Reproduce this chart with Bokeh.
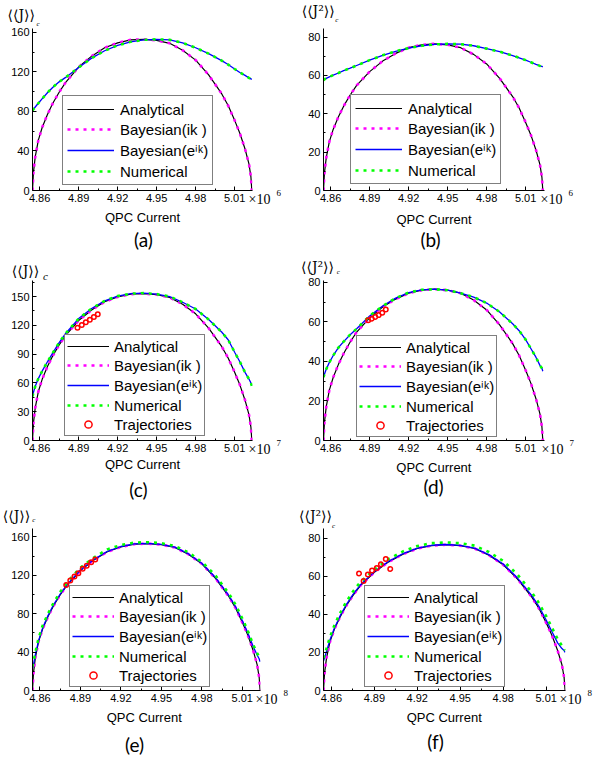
from bokeh.plotting import figure
from bokeh.layouts import column, row
from bokeh.models import Legend, LegendItem, Label, FixedTicker, NumeralTickFormatter
from bokeh.embed import file_html
from bokeh.resources import INLINE

# ---------------- data ----------------
X_TICKS = [4.86, 4.89, 4.92, 4.95, 4.98, 5.01]
X_MINOR = [4.875, 4.905, 4.935, 4.965, 4.995]

QPC = [4.8545, 4.8552, 4.8566, 4.8590, 4.862, 4.866, 4.870, 4.875, 4.880, 4.890,
       4.900, 4.910, 4.920, 4.930, 4.940, 4.950, 4.960, 4.970, 4.980, 4.990,
       5.000, 5.005, 5.010, 5.014, 5.018, 5.021, 5.0225, 5.0232]

J_ANALYTICAL = [0, 18, 34, 51, 64, 77, 88, 99.5, 109.5, 125, 136, 144.5, 149.5, 152.5, 153,
                152, 149, 142, 132, 117, 98, 86, 71, 58, 42, 27, 14, 0]
J2_ANALYTICAL = [0, 9, 17, 25.5, 32, 38.5, 44, 49.8, 54.8, 62, 67.5, 71.5, 74.5, 76, 76.5,
                 76, 74.5, 71, 66, 58.5, 49, 43, 35.5, 29, 21, 13.5, 7, 0]
J_BAYES_IK = [0, 18, 34, 51, 64, 77, 88, 99.5, 109.5, 125, 136, 144.5, 149.5, 152.5, 153,
              152, 149, 142, 132, 117, 98, 86, 71, 58, 42, 27, 14, 0]
J2_BAYES_IK = [0, 9, 17, 25.5, 32, 38.5, 44, 49.8, 54.8, 62, 67.5, 71.5, 74.5, 76, 76.5,
               76, 74.5, 71, 66, 58.5, 49, 43, 35.5, 29, 21, 13.5, 7, 0]

# Bayesian(e^ik) and numerical, panel by panel
EIK_A = [81, 82.2, 84.5, 88.3, 93, 99, 104.3, 110, 114.5, 124.5, 134, 141.5, 147, 150.5, 152.5,
         153, 152.5, 149.5, 144.5, 138.5, 131.5, 127.5, 123, 119.5, 116.5, 114, 113, 112.5]
NUM_A = [81, 82.2, 84.5, 88.3, 93, 99, 104.3, 110, 114.5, 124.5, 134, 141.5, 147, 150.5, 152.5,
         153, 152.5, 149.5, 144.5, 138.5, 131.5, 127.5, 123, 119.5, 116.5, 114, 113, 112.5]
EIK_B = [57.5, 58, 58.5, 59.3, 60.2, 61.3, 62.5, 63.8, 65.2, 68, 70.5, 72.6, 74.3, 75.5, 76.2,
         76.5, 76.3, 75.5, 74, 72.4, 70.4, 69.2, 68, 66.9, 65.8, 65, 64.7, 64.5]
NUM_B = [57.5, 58, 58.5, 59.3, 60.2, 61.3, 62.5, 63.8, 65.2, 68, 70.5, 72.6, 74.3, 75.5, 76.2,
         76.5, 76.3, 75.5, 74, 72.4, 70.4, 69.2, 68, 66.9, 65.8, 65, 64.7, 64.5]
EIK_C = [46, 50, 56.5, 64.5, 72.5, 82, 91, 102, 111.5, 127, 137.5, 145.5, 150.5, 153, 153.5,
         152.5, 150, 144, 137, 126, 113, 105, 92, 82, 71, 64, 60, 57]
NUM_C = [46, 50, 56.5, 64.5, 72.5, 82, 91, 102, 111.5, 127, 137.5, 145.5, 150.5, 153, 153.5,
         152.5, 150, 144, 137, 126, 113, 105, 92, 82, 71, 64, 60, 57]
EIK_D = [32, 33.5, 36, 39.5, 43, 47, 50, 53.5, 56.5, 63, 68, 72, 74.8, 76.2, 76.5,
         76, 74.5, 72.5, 69.5, 65, 59, 55.5, 51, 46.5, 42, 38, 36.5, 35]
NUM_D = [32, 33.5, 36, 39.5, 43, 47, 50, 53.5, 56.5, 63, 68, 72, 74.8, 76.2, 76.5,
         76, 74.5, 72.5, 69.5, 65, 59, 55.5, 51, 46.5, 42, 38, 36.5, 35]
EIK_E = [23, 27, 37, 52, 65, 78, 89, 100.5, 110, 125.5, 136.5, 145, 150, 152.7, 153.2,
         152.3, 149.3, 142.5, 132.5, 118, 99, 87.5, 73, 60.5, 46, 37, 33, 30]
NUM_E = [25, 29, 39.5, 54.5, 67.5, 80, 91, 102.5, 112.5, 128, 138.5, 147, 151.5, 154, 154.5,
         153.5, 150.5, 144, 134, 120, 101, 89.5, 75, 62.5, 48, 39, 35, 32]
EIK_F = [15.5, 17, 20.5, 26.5, 32.5, 39, 44.5, 50.3, 55.2, 62.3, 67.8, 71.8, 74.7, 76.2, 76.6,
         76.1, 74.7, 71.3, 66.4, 59, 49.8, 44, 37, 31, 25, 22, 21, 20]
NUM_F = [17, 18.5, 22, 28, 34, 40.5, 46, 51.8, 56.7, 63.5, 69, 73, 75.8, 77.3, 77.7,
         77.3, 76, 72.7, 68, 60.8, 51.5, 45.8, 39, 33, 27, 23.5, 22, 21]

TRAJ_X_C = [4.8891, 4.8924, 4.8955, 4.8986, 4.9017, 4.9047]
TRAJ_Y_C = [117.4, 120.3, 123.1, 125.8, 128.7, 131.5]
TRAJ_X_D = [4.8889, 4.8916, 4.8943, 4.8970, 4.8997, 4.9024]
TRAJ_Y_D = [60.8, 61.6, 62.5, 63.4, 64.6, 66.2]
TRAJ_X_E = [4.8795, 4.8825, 4.8856, 4.8885, 4.8917, 4.8947, 4.8980, 4.9010]
TRAJ_Y_E = [110, 114.6, 118.8, 122.2, 126.8, 130, 133.6, 136.5]
TRAJ_X_F = [4.8793, 4.8825, 4.8855, 4.8884, 4.8917, 4.8946, 4.8980, 4.9011]
TRAJ_Y_F = [61.4, 57.4, 60.9, 63, 64.3, 66.2, 69, 63.8]

Y_TICKS_J = [0, 40, 80, 120, 160]
Y_TICKS_J_C = [0, 30, 60, 90, 120, 150]
Y_TICKS_J2 = [0, 20, 40, 60, 80]

LEGEND_NAMES = ["Analytical", "Bayesian(ik )", "Bayesian(e\u2071\u1d4f)", "Numerical", "Trajectories"]
PANEL_TAGS = ["(a)", "(b)", "(c)", "(d)", "(e)", "(f)"]
EXPONENTS = ["6", "6", "7", "7", "8", "8"]
X_LABEL = "QPC Current"
Y_LABEL_J = "\u27e8\u27e8J\u27e9\u27e9"
Y_LABEL_J2 = "\u27e8\u27e8J\u00b2\u27e9\u27e9"

X0 = 4.8545

# ---------------- layout of each panel ----------------
cfgs = [
    dict(w=299, h=257, left=32, top=24, fw=220, fh=167, y1=164.0, yt=Y_TICKS_J, ystep=40, ylab=Y_LABEL_J,
         ana=J_ANALYTICAL, ik=J_BAYES_IK, eik=EIK_A, num=NUM_A, traj=None,
         yl=(-11.3, 14), sub=(5.5, 5, 7), leg=(30, 5), qpc=(110, 27.6), tag=(111, 50), ex=-4, scale=1300),
    dict(w=300, h=257, left=24, top=28, fw=221, fh=162, y1=84.5, yt=Y_TICKS_J2, ystep=20, ylab=Y_LABEL_J2,
         ana=J2_ANALYTICAL, ik=J2_BAYES_IK, eik=EIK_B, num=NUM_B, traj=None,
         yl=(-5.3, 17.5), sub=(13.4, 8.3, 7), leg=(27, 6), qpc=(110.5, 29), tag=(107, 49), ex=-4, scale=1300),
    dict(w=299, h=249, left=32, top=23, fw=220, fh=160, y1=166.7, yt=Y_TICKS_J_C, ystep=30, ylab=Y_LABEL_J,
         ana=J_ANALYTICAL, ik=J_BAYES_IK, eik=EIK_C, num=NUM_C, traj=(TRAJ_X_C, TRAJ_Y_C),
         yl=(-7, 10), sub=(13, 5, 11), leg=(32, 4), qpc=(110, 23.5), tag=(106, 48.5), ex=-4, scale=1300),
    dict(w=300, h=249, left=24, top=18, fw=221, fh=165, y1=80.9, yt=Y_TICKS_J2, ystep=20, ylab=Y_LABEL_J2,
         ana=J2_ANALYTICAL, ik=J2_BAYES_IK, eik=EIK_D, num=NUM_D, traj=(TRAJ_X_D, TRAJ_Y_D),
         yl=(-6, 14), sub=(14.7, 8.3, 7), leg=(33, 3), qpc=(110.4, 28), tag=(110, 47), ex=-3, scale=1300),
    dict(w=299, h=252, left=32, top=22, fw=228, fh=162, y1=168.75, yt=Y_TICKS_J, ystep=40, ylab=Y_LABEL_J,
         ana=J_ANALYTICAL, ik=J_BAYES_IK, eik=EIK_E, num=NUM_E, traj=(TRAJ_X_E, TRAJ_Y_E),
         yl=(-16, 13), sub=(1.3, 8.3, 7), leg=(37, 3), qpc=(111.7, 26.7), tag=(102, 54), ex=-5, scale=228 / 0.169),
    dict(w=300, h=252, left=24, top=21, fw=242, fh=163, y1=85.0, yt=Y_TICKS_J2, ystep=20, ylab=Y_LABEL_J2,
         ana=J2_ANALYTICAL, ik=J2_BAYES_IK, eik=EIK_F, num=NUM_F, traj=(TRAJ_X_F, TRAJ_Y_F),
         yl=(-8, 12.7), sub=(10, 2.7, 7), leg=(41, 3), qpc=(120.7, 27.3), tag=(112, 51), ex=-6, scale=242 / 0.169),
]

AX_FONT = "Liberation Sans"


def make_panel(i, c):
    fw, fh = c["fw"], c["fh"]
    x1 = X0 + fw / c["scale"]
    y1 = c["y1"]
    p = figure(width=c["w"], height=c["h"], x_range=(X0, x1), y_range=(0, y1),
               output_backend="svg", toolbar_location=None, title=None,
               min_border_left=c["left"], min_border_right=c["w"] - c["left"] - fw,
               min_border_top=c["top"], min_border_bottom=c["h"] - c["top"] - fh)
    p.grid.visible = False
    p.outline_line_color = None
    p.background_fill_color = "white"
    p.border_fill_color = "white"

    def at(dx, dy):
        return X0 + dx * (x1 - X0) / fw, dy * y1 / fh

    # axes
    ymin = [t + c["ystep"] / 2 for t in c["yt"]]
    p.yaxis.ticker = FixedTicker(ticks=c["yt"], minor_ticks=ymin)
    p.xaxis.ticker = FixedTicker(ticks=X_TICKS, minor_ticks=X_MINOR)
    p.xaxis.formatter = NumeralTickFormatter(format="0.00")
    for ax in (p.xaxis[0], p.yaxis[0]):
        ax.axis_line_color = "black"
        ax.axis_line_width = 1
        ax.major_tick_in = 4
        ax.major_tick_out = 0
        ax.minor_tick_in = 2
        ax.minor_tick_out = 0
        ax.major_tick_line_color = "black"
        ax.minor_tick_line_color = "black"
        ax.major_label_text_font = AX_FONT
        ax.major_label_text_font_size = "11px"
        ax.major_label_text_color = "black"
        ax.major_label_standoff = 3

    # curves
    r_ana = p.line(QPC, c["ana"], line_color="black", line_width=1.2)
    r_ik = p.line(QPC, c["ik"], line_color="#ff00ff", line_width=2.6, line_dash="3 5")
    r_eik = p.line(QPC, c["eik"], line_color="#0000ff", line_width=1.3)
    r_num = p.line(QPC, c["num"], line_color="#00ff00", line_width=2.6, line_dash="3 5")
    items = [LegendItem(label=LEGEND_NAMES[0], renderers=[r_ana]),
             LegendItem(label=LEGEND_NAMES[1], renderers=[r_ik]),
             LegendItem(label=LEGEND_NAMES[2], renderers=[r_eik]),
             LegendItem(label=LEGEND_NAMES[3], renderers=[r_num])]
    if c["traj"] is not None:
        tx, ty = c["traj"]
        r_tr = p.scatter(tx, ty, marker="circle", size=4.5, line_color="#ff0000",
                         fill_color=None, line_width=1.5)
        items.append(LegendItem(label=LEGEND_NAMES[4], renderers=[r_tr]))
        pad, gh, sp, gw, so = 2, 18, 1, 42, 5
    else:
        pad, gh, sp, gw, so = 4, 18, 2, 47, 6

    leg = Legend(items=items, location=c["leg"], padding=pad, spacing=sp,
                 label_height=gh, glyph_height=gh, glyph_width=gw, label_standoff=so,
                 label_text_font=AX_FONT, label_text_font_size="15px", label_text_color="black",
                 border_line_color="black", border_line_width=1,
                 background_fill_color="white", background_fill_alpha=1.0, margin=0)
    p.add_layout(leg)

    # y label at top-left (in the top side panel, so it is not clipped)
    lx, ly = at(c["yl"][0], fh + c["yl"][1])
    p.add_layout(Label(x=lx, y=ly, text=c["ylab"], text_font="DejaVu Serif", text_font_size="14px",
                       text_align="center", text_baseline="middle", text_color="black"), "above")
    sx, sy = at(c["sub"][0], fh + c["sub"][1])
    p.add_layout(Label(x=sx, y=sy, text="c", text_font="Liberation Serif", text_font_style="italic",
                       text_font_size="%dpx" % c["sub"][2], text_align="center",
                       text_baseline="middle", text_color="black"), "right")

    # x label, panel tag, exponent
    qx, qy = at(c["qpc"][0], -c["qpc"][1])
    p.add_layout(Label(x=qx, y=qy, text=X_LABEL, text_font=AX_FONT, text_font_size="13px",
                       text_align="center", text_baseline="middle", text_color="black"), "below")
    tx_, ty_ = at(c["tag"][0], -c["tag"][1])
    p.add_layout(Label(x=tx_, y=ty_, text=PANEL_TAGS[i], text_font="Lato", text_font_size="19px",
                       text_align="center", text_baseline="middle", text_color="black"), "below")
    ex, ey = at(fw + c["ex"], -9.3)
    p.add_layout(Label(x=ex, y=ey, text="\u00d710", text_font="Liberation Serif", text_font_size="14px",
                       text_align="left", text_baseline="middle", text_color="black"), "right")
    ex2, ey2 = at(fw + c["ex"] + 28, -2.5)
    p.add_layout(Label(x=ex2, y=ey2, text=EXPONENTS[i], text_font="Liberation Serif", text_font_size="9px",
                       text_align="left", text_baseline="middle", text_color="black"), "right")
    return p


figs = [make_panel(i, c) for i, c in enumerate(cfgs)]
layout = column(row(figs[0], figs[1]), row(figs[2], figs[3]), row(figs[4], figs[5]))
open("out.html", "w").write(file_html(layout, INLINE))
